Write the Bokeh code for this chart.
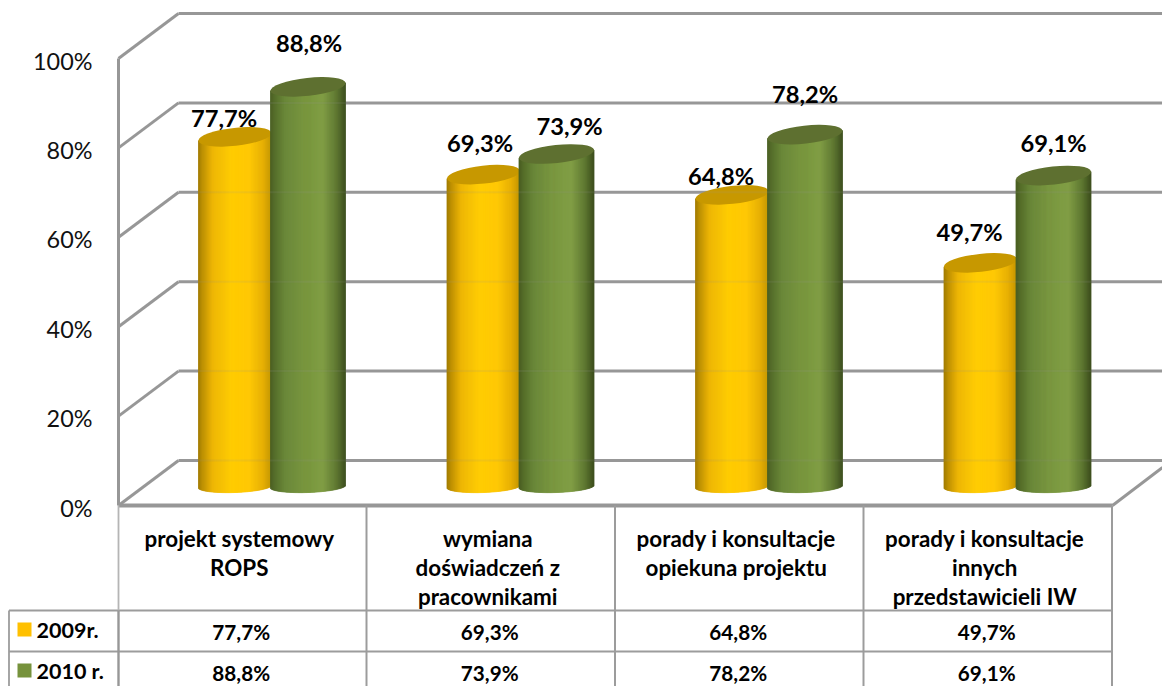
import numpy as np
from bokeh.plotting import figure
from bokeh.models import Range1d
from bokeh.core.properties import value
from bokeh.embed import file_html
from bokeh.resources import INLINE

# ---- data ----
categories = [["projekt systemowy", "ROPS"],
              ["wymiana", "doświadczeń z", "pracownikami"],
              ["porady i konsultacje", "opiekuna projektu"],
              ["porady i konsultacje", "innych", "przedstawicieli IW"]]
series_names = ["2009r.", "2010 r."]
values_2009 = [77.7, 69.3, 64.8, 49.7]
values_2010 = [88.8, 73.9, 78.2, 69.1]
y_ticks = [0, 20, 40, 60, 80, 100]

# ---- layout helpers (reference pixels) ----
FONT = "Lato"
Y0, PXU = 505.0, 4.47
FX0, FX1 = 118.0, 1112.0
DX, DY = 60.0, 45.0
XEND = 1162.0
GRID, GRID_T = "#979797", "#9c9c9c"


def yd(pix):
    return (Y0 - np.asarray(pix, dtype=float)) / PXU


p = figure(width=1162, height=686, output_backend="svg", toolbar_location=None,
           x_range=Range1d(0, 1162), y_range=Range1d(yd(686), yd(0)),
           min_border=0, background_fill_color="white")
p.axis.visible = False
p.grid.visible = False
p.outline_line_color = None


def seg(x0, y0, x1, y1, color=GRID, w=3.0, alpha=1.0):
    p.line([x0, x1], [yd(y0), yd(y1)], line_color=color, line_width=w, line_alpha=alpha)


# ---- walls ----
for t in y_ticks:
    yf = Y0 - t * PXU
    seg(FX0, yf, FX0 + DX, yf - DY)
    seg(FX0 + DX, yf - DY, XEND, yf - DY)
seg(FX0, Y0 - 100 * PXU, FX0, Y0)
seg(FX1, Y0, XEND, Y0 - 38)

# ---- cylinders ----
STEP = 248.5
JOIN = 271.0
BASE_C = 486.0
HSCALE = 4.5
N = 74
stops = np.array([0, .06, .2, .45, .7, .88, 1])
shade = {
    "y": (np.array([[160, 122, 0], [190, 144, 0], [238, 182, 0], [255, 204, 0], [255, 200, 0], [232, 176, 0], [196, 150, 0]]),
          "#c79800", 73.0, -73.0),
    "g": (np.array([[72, 94, 34], [84, 108, 40], [104, 134, 54], [120, 150, 62], [127, 157, 66], [94, 120, 48], [62, 80, 30]]),
          "#5e7030", 75.0, -1.0),
}


def cylinder(vals, key):
    ramp, top_col, width, off = shade[key]
    for i, v in enumerate(vals):
        x0 = JOIN + STEP * i + off
        edges = x0 + width * np.arange(N + 1) / N
        mid = (edges[:-1] + edges[1:]) / 2
        u = (mid - x0) / width * 2 - 1
        f = (u + 1) / 2
        cols = ["#%02x%02x%02x" % tuple(int(np.interp(a, stops, ramp[:, c])) for c in range(3)) for a in f]
        top_c = BASE_C - v * HSCALE
        bottoms = BASE_C - 1.3 * u + 6.0 * np.sqrt(1 - u ** 2)
        tops = top_c - 4.0 * u
        p.quad(left=edges[:-1], right=edges[1:], bottom=yd(bottoms), top=yd(tops),
               fill_color=cols, line_color=cols, line_width=0.8)
        p.ellipse(x=[x0 + width / 2], y=[yd(top_c)], width=width + 0.5, height=18,
                  width_units="screen", height_units="screen", angle=np.deg2rad(6.2),
                  fill_color=top_col, line_color=None)


cylinder(values_2009, "y")
cylinder(values_2010, "g")

# grid showing faintly through the translucent cylinders
for t in y_ticks[:-1]:
    yb = Y0 - t * PXU - DY
    seg(FX0 + DX, yb, XEND, yb, w=2.0, alpha=0.13)

# ---- data labels ----
off_x_2009 = [-11, -3.5, -11, -11]
off_y_2009 = [-19, -32, -19, -31]
off_x_2010 = [1, 13, 0, 0]
off_y_2010 = [-44, -28, -41, -33]
for vals, ox, oy, width, off in ((values_2009, off_x_2009, off_y_2009, 73.0, -73.0),
                                 (values_2010, off_x_2010, off_y_2010, 75.0, -1.0)):
    for i, v in enumerate(vals):
        xc = JOIN + STEP * i + off + width / 2 + ox[i]
        yc = BASE_C - v * HSCALE + oy[i]
        p.text([xc], [yd(yc)], text=[f"{v:.1f}%".replace(".", ",")], text_font=value(FONT),
               text_font_style="bold", text_font_size="23.7px", text_color="black",
               text_align="center", text_baseline="middle")

# ---- y tick labels ----
p.text([92] * len(y_ticks), [yd(Y0 - t * PXU + 2) for t in y_ticks], text=[f"{t}%" for t in y_ticks],
       text_font=value(FONT), text_font_size="23.4px", text_color="#111111",
       text_align="right", text_baseline="middle")

# ---- data table ----
TX = [FX0 + (FX1 - FX0) * k / 4 for k in range(5)]
R1, R2, TB = 610.0, 651.0, 690.0
FLOOR_W = 4.0
seg(FX0, Y0, FX1, Y0, w=FLOOR_W)
seg(8.5, R1, FX1, R1, color=GRID_T, w=1.8)
seg(8.5, R2, FX1, R2, color=GRID_T, w=1.8)
seg(8.5, R1, 8.5, TB, color=GRID_T, w=1.8)
seg(FX0, Y0, FX0, R1, color="#b5b5b5", w=1.8)
seg(FX0, R1, FX0, TB, w=2.4)
for k in range(1, 5):
    seg(TX[k] - 0.5, Y0, TX[k] - 0.5, TB, color=GRID_T, w=2.0)

for i, lines in enumerate(categories):
    xc = (TX[i] + TX[i + 1]) / 2 - 3.5
    for j, t in enumerate(lines):
        p.text([xc], [yd(538 + 29 * j)], text=[t], text_font=value(FONT), text_font_style="bold",
               text_font_size="22.4px", text_color="black", text_align="center", text_baseline="middle")

for vals, yc in ((values_2009, 631), (values_2010, 672)):
    for i, v in enumerate(vals):
        xc = (TX[i] + TX[i + 1]) / 2 - 1.5
        p.text([xc], [yd(yc)], text=[f"{v:.1f}%".replace(".", ",")], text_font=value(FONT),
               text_font_style="bold", text_font_size="20.7px", text_color="black",
               text_align="center", text_baseline="middle")

# ---- legend keys ----
for name, col, yt in ((series_names[0], "#ffc000", 622), (series_names[1], "#76923c", 663)):
    p.quad(left=[17], right=[31], top=[yd(yt)], bottom=[yd(yt + 14)], fill_color=col, line_color=None)
    p.text([36], [yd(yt + 7)], text=[name], text_font=value(FONT), text_font_style="bold",
           text_font_size="21.5px", text_color="black", text_align="left", text_baseline="middle")

open("out.html", "w").write(file_html(p, INLINE))
